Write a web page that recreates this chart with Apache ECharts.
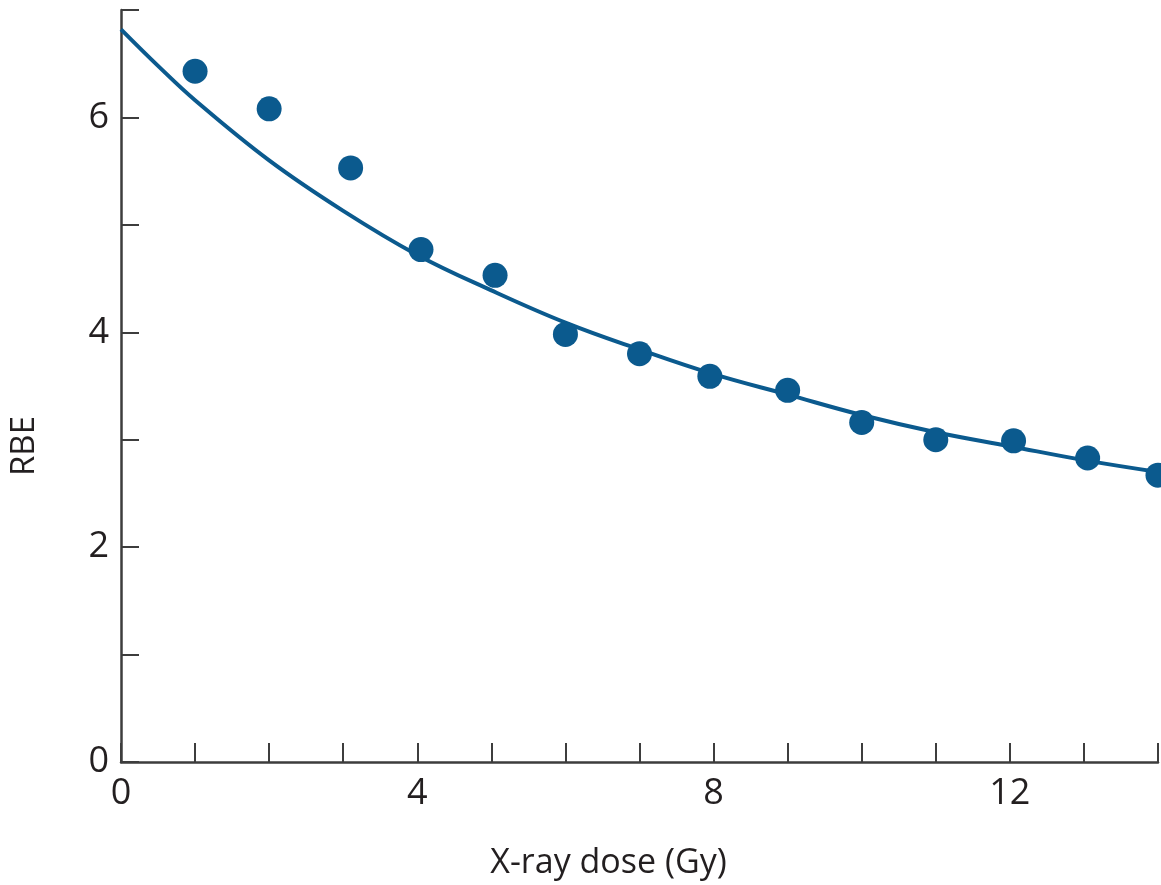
<!DOCTYPE html>
<html>
<head>
<meta charset="utf-8">
<script src="https://cdn.jsdelivr.net/npm/echarts@6/dist/echarts.min.js"></script>
<style>
html,body{margin:0;padding:0;background:#fff;}
#chart{width:1161px;height:885px;}
</style>
</head>
<body>
<div id="chart"></div>
<script>
// Measured data points (X-ray dose in Gy, RBE)
const pointDose = [1, 2, 3.1, 4.05, 5.05, 6, 7, 7.95, 9, 10, 11, 12.05, 13.05, 14];
const pointRBE  = [6.43, 6.08, 5.53, 4.77, 4.53, 3.98, 3.80, 3.59, 3.46, 3.16, 3.00, 2.99, 2.83, 2.67];
// Fitted curve
const curveDose = [0, 0.5, 1, 2, 3, 4, 5, 6, 7, 8, 9, 10, 11, 12, 13, 14];
const curveRBE  = [6.82, 6.48, 6.16, 5.60, 5.13, 4.72, 4.39, 4.09, 3.84, 3.61, 3.42, 3.23, 3.07, 2.94, 2.81, 2.70];
// Axis settings
const xTickLabels = [0, 4, 8, 12];
const yTickLabels = [0, 2, 4, 6];

const FONT = '"Open Sans", "DejaVu Sans", sans-serif';
const TEXT = '#231f20';
const AXIS = '#3d3d3d';
const BLUE = '#0b5a8e';

const chart = echarts.init(document.getElementById('chart'), null, {renderer: 'canvas'});
chart.setOption({
  animation: false,
  backgroundColor: '#ffffff',
  grid: {left: 121, right: 1, top: 10, bottom: 123, containLabel: false},
  xAxis: {
    type: 'value', min: 0, max: 14, interval: 1,
    name: 'X-ray dose (Gy)', nameLocation: 'middle', nameGap: 84,
    nameTextStyle: {fontFamily: FONT, fontSize: 34, color: TEXT, padding: [0, 62, 0, 0]},
    axisLine: {show: true, onZero: false, lineStyle: {color: AXIS, width: 2.5}},
    axisTick: {show: true, inside: true, length: 19, lineStyle: {color: AXIS, width: 2}},
    splitLine: {show: false},
    axisLabel: {
      fontFamily: FONT, fontSize: 36, color: TEXT, margin: 14,
      formatter: v => xTickLabels.includes(v) ? String(v) : ''
    }
  },
  yAxis: {
    type: 'value', min: 0, max: 7, interval: 1,
    name: 'RBE', nameLocation: 'middle', nameRotate: 90, nameGap: 80,
    nameTextStyle: {fontFamily: FONT, fontSize: 33, color: TEXT, padding: [0, 120, 0, 0]},
    axisLine: {show: true, onZero: false, lineStyle: {color: AXIS, width: 2.5}},
    axisTick: {show: true, inside: true, length: 18, lineStyle: {color: AXIS, width: 2}},
    splitLine: {show: false},
    axisLabel: {
      fontFamily: FONT, fontSize: 36, color: TEXT, margin: 12,
      formatter: v => yTickLabels.includes(v) ? String(v) : ''
    }
  },
  series: [
    {
      type: 'line',
      data: curveDose.map((d, i) => [d, curveRBE[i]]),
      smooth: 0.4,
      showSymbol: false,
      lineStyle: {color: BLUE, width: 4},
      z: 2
    },
    {
      type: 'scatter',
      data: pointDose.map((d, i) => [d, pointRBE[i]]),
      symbol: 'circle',
      symbolSize: 25,
      itemStyle: {color: BLUE, opacity: 1},
      z: 3
    }
  ]
});
</script>
</body>
</html>
